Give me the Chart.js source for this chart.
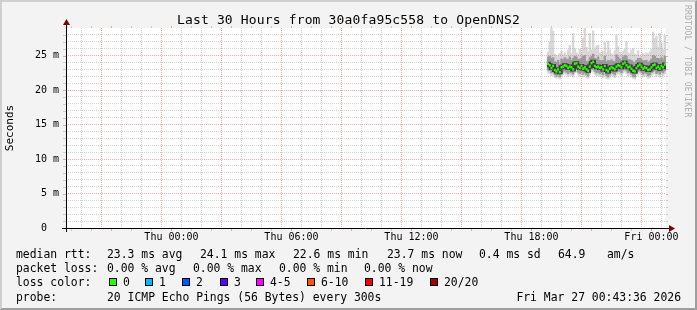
<!DOCTYPE html>
<html><head><meta charset="utf-8">
<script src="https://cdn.jsdelivr.net/npm/chart.js@4.4.1/dist/chart.umd.min.js"></script>
<style>
html,body{margin:0;padding:0;background:#f3f3f3;}
#wrap{position:relative;width:697px;height:310px;overflow:hidden;background:#f3f3f3;font-family:"DejaVu Sans Mono",monospace;font-size:11.4px;color:#000;}
#wrap canvas{position:absolute;left:0;top:0;}
.frame{position:absolute;left:0;top:0;width:697px;height:310px;box-sizing:border-box;border-top:2px solid #cfcfcf;border-left:2px solid #cfcfcf;border-right:2px solid #9e9e9e;border-bottom:2px solid #9e9e9e;pointer-events:none}
.t{position:absolute;white-space:pre;line-height:14px;height:14px;}
.box{position:absolute;width:6px;height:6px;border:1px solid #000;}
#title{position:absolute;left:0;width:697px;top:12px;text-align:center;white-space:pre;line-height:16px;font-size:13px;letter-spacing:0.15px;}
#wm{position:absolute;left:683px;top:5px;writing-mode:vertical-rl;font-size:8px;color:#ababab;white-space:pre;letter-spacing:0.3px;}
</style></head>
<body>
<div id="wrap">
<canvas id="c" width="697" height="310"></canvas>
<div id="title"></div>
<div id="wm"></div>
<div id="legend"></div>
<div class="frame"></div>
</div>
<script>
// ---------------- data ----------------
const chartTitle = "Last 30 Hours from 30a0fa95c558 to OpenDNS2";
const rangeStart = "Wed 18:43:36";
const rangeEnd = "Fri 00:43:36";
const sampleTimes = [
 "Thu 18:50","Thu 18:55",
 "Thu 19:00","Thu 19:05","Thu 19:10","Thu 19:15","Thu 19:20","Thu 19:25","Thu 19:30","Thu 19:35","Thu 19:40","Thu 19:45","Thu 19:50","Thu 19:55",
 "Thu 20:00","Thu 20:05","Thu 20:10","Thu 20:15","Thu 20:20","Thu 20:25","Thu 20:30","Thu 20:35","Thu 20:40","Thu 20:45","Thu 20:50","Thu 20:55",
 "Thu 21:00","Thu 21:05","Thu 21:10","Thu 21:15","Thu 21:20","Thu 21:25","Thu 21:30","Thu 21:35","Thu 21:40","Thu 21:45","Thu 21:50","Thu 21:55",
 "Thu 22:00","Thu 22:05","Thu 22:10","Thu 22:15","Thu 22:20","Thu 22:25","Thu 22:30","Thu 22:35","Thu 22:40","Thu 22:45","Thu 22:50","Thu 22:55",
 "Thu 23:00","Thu 23:05","Thu 23:10","Thu 23:15","Thu 23:20","Thu 23:25","Thu 23:30","Thu 23:35","Thu 23:40","Thu 23:45","Thu 23:50","Thu 23:55",
 "Fri 00:00","Fri 00:05","Fri 00:10","Fri 00:15","Fri 00:20","Fri 00:25","Fri 00:30","Fri 00:35","Fri 00:40"
];
// round-trip times in ms
const medianMs = [
 23.8,23.6,23.2,23.5,22.9,22.7,23.0,22.6,23.3,23.4,
 23.6,23.5,23.2,23.4,23.3,23.0,23.8,23.9,23.4,23.2,
 23.5,23.1,23.3,23.0,22.8,23.4,23.9,24.1,23.5,23.3,
 23.4,23.2,23.3,23.0,23.5,22.9,22.7,23.1,23.3,23.2,
 23.0,23.4,23.6,23.5,23.3,23.8,24.0,23.6,23.3,23.4,
 23.1,22.8,22.7,23.2,23.5,23.7,23.4,23.1,23.3,23.2,
 22.9,23.0,23.3,23.6,23.7,23.2,23.4,23.1,23.5,23.3,
 23.7];
const highMs = [
 24.8,24.9,24.6,24.7,24.1,24.0,24.3,23.8,24.5,24.4,
 24.7,24.5,24.4,24.8,24.3,24.6,24.9,24.8,24.4,24.5,
 24.6,24.9,25.0,24.2,24.0,24.7,24.9,25.2,24.6,24.5,
 24.8,24.3,24.2,24.3,24.9,24.1,24.3,24.2,24.4,24.2,
 24.1,25.1,24.8,24.5,24.3,24.8,25.0,24.9,24.4,24.4,
 24.3,24.1,23.9,24.3,24.6,24.6,24.4,24.2,24.3,24.3,
 24.0,24.2,24.5,25.0,24.9,24.6,24.6,24.5,24.7,24.4,
 24.9];
const lowMs = [
 22.9,22.8,22.5,22.7,22.2,22.0,22.3,21.9,22.5,22.6,
 22.8,22.6,22.4,22.6,22.5,22.3,22.9,23.0,22.6,22.4,
 22.7,22.3,22.5,22.2,22.0,22.6,23.0,23.2,22.7,22.5,
 22.6,22.4,22.5,22.2,22.7,22.1,21.9,22.3,22.5,22.4,
 22.2,22.6,22.8,22.7,22.5,22.9,23.1,22.8,22.5,22.6,
 22.3,22.0,21.9,22.4,22.7,22.8,22.6,22.3,22.5,22.4,
 22.1,22.2,22.5,22.7,22.9,22.4,22.6,22.3,22.7,22.5,
 22.8];
const minMs = [
 22.5,22.4,22.1,22.3,21.8,21.7,21.9,21.6,22.1,22.2,
 22.4,22.2,22.0,22.2,22.1,21.9,22.5,22.6,22.2,22.0,
 22.3,21.9,22.1,21.8,21.7,22.2,22.6,22.8,22.3,22.1,
 22.2,22.0,22.1,21.8,22.3,21.7,21.6,21.9,22.1,22.0,
 21.8,22.2,22.4,22.3,22.1,22.5,22.7,22.4,22.1,22.2,
 21.9,21.7,21.6,22.0,22.3,22.4,22.2,21.9,22.1,22.0,
 21.7,21.8,22.1,22.3,22.5,22.0,22.2,21.9,22.3,22.1,
 22.4];
const maxMs = [
 25.5,27.0,29.0,28.5,25.2,25.0,24.9,25.3,25.6,25.1,
 25.4,25.0,25.8,26.5,25.3,28.2,26.0,25.4,25.2,25.9,
 25.3,27.5,29.0,26.2,25.5,28.2,25.8,28.6,25.9,26.4,
 26.5,25.4,25.2,25.6,26.9,25.4,27.1,25.8,25.3,25.0,
 25.7,28.0,26.3,25.5,25.2,25.6,25.9,27.0,25.4,25.3,
 25.8,26.0,25.2,25.1,25.7,25.0,24.9,25.3,25.1,25.4,
 25.2,25.5,25.9,28.4,27.5,27.8,26.2,28.2,26.8,25.9,
 27.9];
const xTickLabels = ["Thu 00:00","Thu 06:00","Thu 12:00","Thu 18:00","Fri 00:00"];
const yTickValues = [0,5,10,15,20,25];
const yTickLabels = ["0  ","5 m","10 m","15 m","20 m","25 m"];
const yAxisMax = 29.0;
const rttStats = ["23.3 ms avg","24.1 ms max","22.6 ms min","23.7 ms now","0.4 ms sd","64.9","am/s"];
const lossStats = ["0.00 % avg","0.00 % max","0.00 % min","0.00 % now"];
const lossLabels = ["0","1","2","3","4-5","6-10","11-19","20/20"];
const lossColors = ["#26ff00","#00b8ff","#0059ff","#5e00ff","#ff00ff","#ff5500","#ff0000","#a10000"];
const probeText = "20 ICMP Echo Pings (56 Bytes) every 300s";
const stampText = "Fri Mar 27 00:43:36 2026";
const watermark = "RRDTOOL / TOBI OETIKER";

// ---------------- helpers ----------------
const DAY = {Wed:-1440, Thu:0, Fri:1440};
function toMin(s){const [d,t]=s.split(' ');const p=t.split(':').map(Number);return DAY[d]+p[0]*60+p[1]+(p[2]||0)/60;}
const xs = sampleTimes.map(toMin);
const xMin = toMin(rangeStart), xMax = toMin(rangeEnd);
const labelAt = {}; xTickLabels.forEach(l=>labelAt[Math.round(toMin(l))]=l);
const yLabelAt = {}; yTickValues.forEach((v,i)=>yLabelAt[v]=yTickLabels[i]);

// ---------------- html text ----------------
const FONT = "DejaVu Sans Mono";
document.getElementById('title').textContent = chartTitle;
document.getElementById('wm').textContent = watermark;
const leg = document.getElementById('legend');
function txt(s,x,yc,right){const e=document.createElement('div');e.className='t';e.textContent=s;e.style.top=(yc-7)+'px';if(right){e.style.right=(697-x)+'px';}else{e.style.left=x+'px';}leg.appendChild(e);}
function box(c,x,yc){const e=document.createElement('div');e.className='box';e.style.background=c;e.style.left=x+'px';e.style.top=(yc-4)+'px';leg.appendChild(e);}
txt("median rtt:",16,254);
[107,200,293,387,479,558,607].forEach((x,i)=>txt(rttStats[i],x,254));
txt("packet loss:",16,268);
[107,193,279,364].forEach((x,i)=>txt(lossStats[i],x,268));
txt("loss color:",16,282);
[109,145,182,220,256,307,365,430].forEach((x,i)=>{box(lossColors[i],x,282);txt(lossLabels[i],x+14,282);});
txt("probe:",16,297);
txt(probeText,107,297);
txt(stampText,681,297,true);

// ---------------- chart ----------------
const MAJ = 'rgba(222,90,90,0.5)', MIN = 'rgba(140,140,140,0.38)';
const isMajX = v => (Math.round(v)%180)===0;
const isMajY = v => (v%5)===0;
const rrdPlugin = {
  id:'rrd',
  beforeDraw(chart){
    const {ctx, chartArea:a} = chart;
    ctx.save();
    ctx.fillStyle='#f3f3f3'; ctx.fillRect(0,0,chart.width,chart.height);
    ctx.fillStyle='#ffffff'; ctx.fillRect(a.left,a.top,a.right-a.left,a.bottom-a.top);
    ctx.restore();
  },
  afterDraw(chart){
    const {ctx, chartArea:a, scales} = chart;
    const L = Math.round(a.left), R = Math.round(a.right), T = Math.round(a.top), B = Math.round(a.bottom);
    ctx.save();
    ctx.lineWidth=1;
    scales.x.ticks.forEach(t=>{
      const px = Math.round(scales.x.getPixelForValue(t.value))+0.5;
      ctx.strokeStyle = isMajX(t.value) ? MAJ : MIN;
      ctx.beginPath(); ctx.moveTo(px,T-2); ctx.lineTo(px,T); ctx.moveTo(px,B); ctx.lineTo(px,B+3); ctx.stroke();
    });
    scales.y.ticks.forEach(t=>{
      const py = Math.round(scales.y.getPixelForValue(t.value))+0.5;
      ctx.strokeStyle = isMajY(t.value) ? MAJ : MIN;
      ctx.beginPath(); ctx.moveTo(L-3,py); ctx.lineTo(L,py); ctx.moveTo(R,py); ctx.lineTo(R+2,py); ctx.stroke();
    });
    ctx.strokeStyle='#000';
    ctx.beginPath();
    ctx.moveTo(L-4, B+0.5); ctx.lineTo(R+3, B+0.5);
    ctx.moveTo(L+0.5, B+4); ctx.lineTo(L+0.5, T-3);
    ctx.stroke();
    ctx.fillStyle='#7f0000';
    const bx = R+3, by=B+0.5;
    ctx.beginPath(); ctx.moveTo(bx,by-3.5); ctx.lineTo(bx+6,by); ctx.lineTo(bx,by+3.5); ctx.closePath(); ctx.fill();
    const ax = L+0.5, ay=T-3;
    ctx.beginPath(); ctx.moveTo(ax-3.5,ay); ctx.lineTo(ax,ay-6); ctx.lineTo(ax+3.5,ay); ctx.closePath(); ctx.fill();
    ctx.restore();
  }
};

const hourTicks = [];
for (let v = Math.ceil(xMin/60)*60; v <= xMax; v += 60) hourTicks.push({value:v});
const yTicks = [];
for (let v = 0; v < yAxisMax; v += 1) yTicks.push({value:v});

new Chart(document.getElementById('c'), {
  data: {
    datasets: [
      {type:'line', label:'median', data: xs.map((x,i)=>({x, y:medianMs[i]})), showLine:false,
       pointStyle:'line', pointRadius:1, pointBorderWidth:2.5, pointBorderColor:'#26ff00', pointBackgroundColor:'#26ff00', order:1},
      {type:'line', label:'core', data: xs.map((x,i)=>({x, y:medianMs[i]})), stepped:'middle',
       borderColor:'#3a3a3a', borderWidth:4, pointRadius:0, order:2},
      {type:'bar', label:'mid', data: xs.map((x,i)=>({x, y:[lowMs[i], highMs[i]]})), backgroundColor:'#9c9c9c',
       grouped:false, barPercentage:1, categoryPercentage:1, borderWidth:0, inflateAmount:0.4, order:3},
      {type:'bar', label:'range', data: xs.map((x,i)=>({x, y:[minMs[i], maxMs[i]]})), backgroundColor:'#d8d8d8',
       grouped:false, barPercentage:1, categoryPercentage:1, borderWidth:0, inflateAmount:0.4, order:4}
    ]
  },
  options: {
    responsive:false, animation:false, devicePixelRatio:1,
    layout:{padding:{left:0, top:28, right:31, bottom:0}},
    plugins:{legend:{display:false}, tooltip:{enabled:false}, title:{display:false}},
    scales:{
      x:{type:'linear', min:xMin, max:xMax, offset:false,
         afterBuildTicks(s){s.ticks = hourTicks.map(t=>({value:t.value}));},
         afterFit(s){s.height = 82;},
         ticks:{autoSkip:false, maxRotation:0, minRotation:0, padding:3, color:'#000',
                font:{family:FONT, size:10}, callback:(v)=>labelAt[Math.round(v)]||''},
         grid:{z:1, lineWidth:1, drawTicks:false,
               color:(c)=> (c.tick && isMajX(c.tick.value)) ? MAJ : MIN},
         border:{display:false, dash:[1,1]}
      },
      y:{type:'linear', min:0, max:yAxisMax,
         afterBuildTicks(s){s.ticks = yTicks.map(t=>({value:t.value}));},
         afterFit(s){s.width = 66;},
         ticks:{autoSkip:false, padding:7, color:'#000', font:{family:FONT, size:10},
                callback:(v)=> yLabelAt[v]!==undefined ? yLabelAt[v] : ''},
         grid:{z:1, lineWidth:1, drawTicks:false,
               color:(c)=> (c.tick && isMajY(c.tick.value)) ? MAJ : MIN},
         border:{display:false, dash:[1,1]},
         title:{display:true, text:'Seconds', color:'#000', font:{family:FONT, size:11}, padding:{top:4,bottom:0}}
      }
    }
  },
  plugins:[rrdPlugin]
});
</script>
</body></html>
